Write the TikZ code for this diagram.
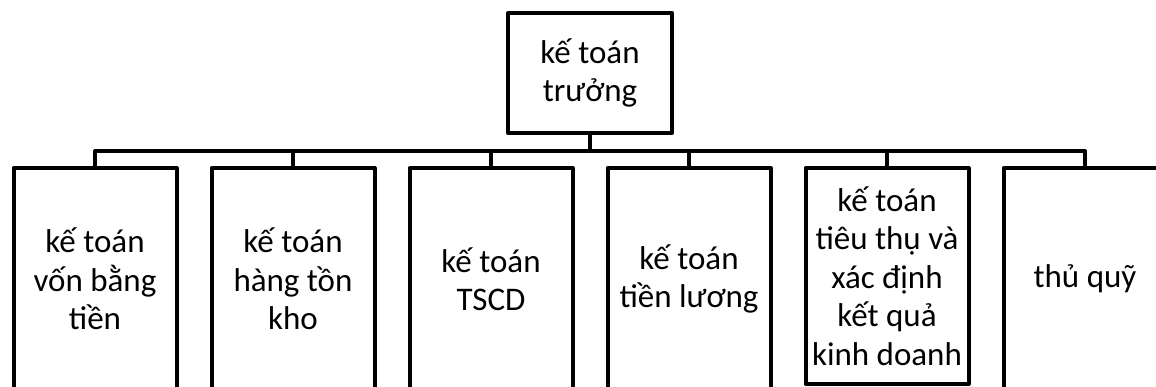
\documentclass[tikz,border=0pt]{standalone}
\usepackage{fontspec}
\setmainfont{Carlito}
\begin{document}
\begin{tikzpicture}[x=1pt,y=1pt,
  every node/.style={font=\fontsize{33}{38.5}\selectfont},
  orgbox/.style={draw=black, line width=4pt, fill=white, align=center,
    inner sep=0pt, outer sep=0pt, minimum width=163pt, line join=round},
  link/.style={draw=black, line width=4pt, line join=round}]
\useasboundingbox (0,0) rectangle (1156,-387);
\clip (0,0) rectangle (1156,-387);

% head of the department
\node[orgbox, minimum width=164pt, minimum height=120pt] (top) at (590,-73)
  {kế toán\\trưởng};

% staff boxes
\node[orgbox, minimum height=222pt, anchor=north] (b1) at (95,-168)
  {kế toán\\vốn bằng\\tiền};
\node[orgbox, minimum height=222pt, anchor=north] (b2) at (293,-168)
  {kế toán\\hàng tồn\\kho};
\node[orgbox, minimum height=222pt, anchor=north] (b3) at (491,-168)
  {kế toán\\TSCD};
\node[orgbox, minimum height=222pt, anchor=north] (b4) at (689,-168)
  {kế toán\\tiền lương};
\node[orgbox, minimum height=216pt, anchor=north] (b5) at (887,-168)
  {kế toán\\tiêu thụ và\\xác định\\kết quả\\kinh doanh};
\node[orgbox, minimum height=222pt, anchor=north] (b6) at (1085,-168)
  {thủ quỹ};

% connectors
\coordinate (bus) at (590,-151);
\draw[link] (top.south) -- (bus);
\draw[link] (b1.north) |- (bus) -| (b6.north);
\foreach \b in {b2,b3,b4,b5}
  \draw[link] (bus -| \b.north) -- (\b.north);
\end{tikzpicture}
\end{document}
